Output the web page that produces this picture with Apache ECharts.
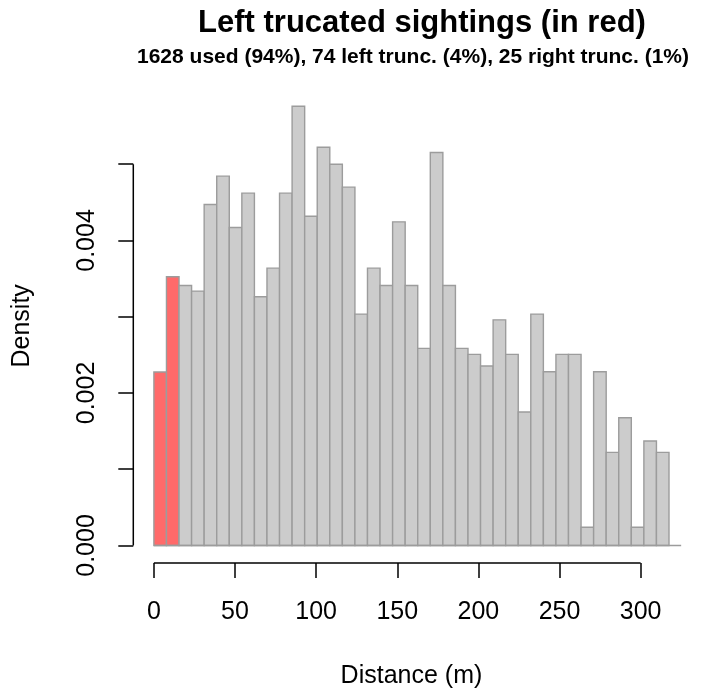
<!DOCTYPE html>
<html>
<head>
<meta charset="utf-8">
<script src="https://cdn.jsdelivr.net/npm/echarts@6/dist/echarts.min.js"></script>
<style>
html, body { margin: 0; padding: 0; background: #fff; }
#main { width: 701px; height: 694px; }
</style>
</head>
<body>
<div id="main"></div>
<script>
// histogram of distances, equal bins from 0
var binWidth = 7.744;
var density = [
    0.002274, 0.003523, 0.003410, 0.003336, 0.004472, 0.004843, 0.004170,
    0.004620, 0.003261, 0.003637, 0.004620, 0.005760, 0.004318, 0.005223,
    0.005000, 0.004699, 0.003034, 0.003637, 0.003410, 0.004244, 0.003410,
    0.002585, 0.005153, 0.003410, 0.002585, 0.002506, 0.002353, 0.002959,
    0.002506, 0.001750, 0.003034, 0.002278, 0.002506, 0.002506, 0.000239,
    0.002278, 0.001221, 0.001675, 0.000239, 0.001370, 0.001221
];
var leftTruncBins = 2;      // first bins drawn in red
var baselineEnd = 325;      // grey line under the bars
var xTicks = [0, 50, 100, 150, 200, 250, 300];
var yTicks = [0, 0.001, 0.002, 0.003, 0.004, 0.005];
var yLabels = [0, 0.002, 0.004];

var xMin = -12.7, xMax = 330.2;
var yMin = -0.00023, yMax = 0.00599;

var font = 'Liberation Sans, Arial, Helvetica, sans-serif';

var bins = density.map(function (d, i) {
    return [i * binWidth, (i + 1) * binWidth, d, i < leftTruncBins ? 1 : 0];
});

var myChart = echarts.init(document.getElementById('main'));

var option = {
    animation: false,
    backgroundColor: '#fff',
    title: [
        {
            text: 'Left trucated sightings (in red)',
            left: 422, top: 8, padding: 0, textAlign: 'center',
            textStyle: { fontFamily: font, fontSize: 31, fontWeight: 'bold', color: '#000' }
        },
        {
            text: '1628 used (94%), 74 left trunc. (4%), 25 right trunc. (1%)',
            left: 413, top: 47, padding: 0, textAlign: 'center',
            textStyle: { fontFamily: font, fontSize: 21, fontWeight: 'bold', color: '#000' }
        }
    ],
    grid: {
        left: 133.3, right: 11.4, top: 88.7, bottom: 131,
        outerBoundsMode: 'none'
    },
    xAxis: {
        type: 'value',
        min: xMin, max: xMax,
        name: 'Distance (m)',
        nameLocation: 'middle',
        nameGap: 101,
        nameMoveOverlap: false,
        nameTextStyle: { fontFamily: font, fontSize: 25, color: '#000' },
        axisLine: { show: false, onZero: false },
        splitLine: { show: false },
        axisTick: {
            show: true, length: 15, customValues: xTicks,
            lineStyle: { color: '#000', width: 1.5 }
        },
        axisLabel: {
            customValues: xTicks, margin: 37,
            fontFamily: font, fontSize: 25, color: '#000'
        }
    },
    yAxis: {
        type: 'value',
        min: yMin, max: yMax,
        name: 'Density',
        nameLocation: 'middle',
        nameRotate: 90,
        nameGap: 99,
        nameMoveOverlap: false,
        nameTextStyle: { fontFamily: font, fontSize: 25, color: '#000' },
        axisLine: { show: false, onZero: false },
        splitLine: { show: false },
        axisTick: {
            show: true, length: 15, customValues: yTicks,
            lineStyle: { color: '#000', width: 1.5 }
        },
        axisLabel: {
            customValues: yLabels, rotate: 90, margin: 34,
            fontFamily: font, fontSize: 25, color: '#000',
            formatter: function (v) { return v.toFixed(3); }
        }
    },
    series: [
        {
            name: 'bins',
            type: 'custom',
            encode: { x: [0, 1], y: 2 },
            data: bins,
            renderItem: function (params, api) {
                var p0 = api.coord([api.value(0), api.value(2)]);
                var p1 = api.coord([api.value(1), 0]);
                return {
                    type: 'rect',
                    shape: { x: p0[0], y: p0[1], width: p1[0] - p0[0], height: p1[1] - p0[1] },
                    style: {
                        fill: api.value(3) ? '#FF6A6A' : '#CCCCCC',
                        stroke: '#9C9C9C',
                        lineWidth: 1.4
                    }
                };
            }
        },
        {
            // axis lines only over the tick range, plus the grey zero line
            name: 'axes',
            type: 'custom',
            data: [[0]],
            silent: true,
            renderItem: function (params, api) {
                var xa = api.coord([xTicks[0], yMin]);
                var xb = api.coord([xTicks[xTicks.length - 1], yMin]);
                var ya = api.coord([xMin, yTicks[0]]);
                var yb = api.coord([xMin, yTicks[yTicks.length - 1]]);
                var b0 = api.coord([0, 0]);
                var b1 = api.coord([baselineEnd, 0]);
                return {
                    type: 'group',
                    children: [
                        { type: 'line', shape: { x1: xa[0], y1: xa[1], x2: xb[0], y2: xb[1] },
                          style: { stroke: '#000', lineWidth: 1.5 } },
                        { type: 'line', shape: { x1: ya[0], y1: ya[1], x2: yb[0], y2: yb[1] },
                          style: { stroke: '#000', lineWidth: 1.5 } },
                        { type: 'line', shape: { x1: b0[0], y1: b0[1], x2: b1[0], y2: b1[1] },
                          style: { stroke: '#9C9C9C', lineWidth: 1.4 } }
                    ]
                };
            }
        }
    ]
};

myChart.setOption(option);
</script>
</body>
</html>
